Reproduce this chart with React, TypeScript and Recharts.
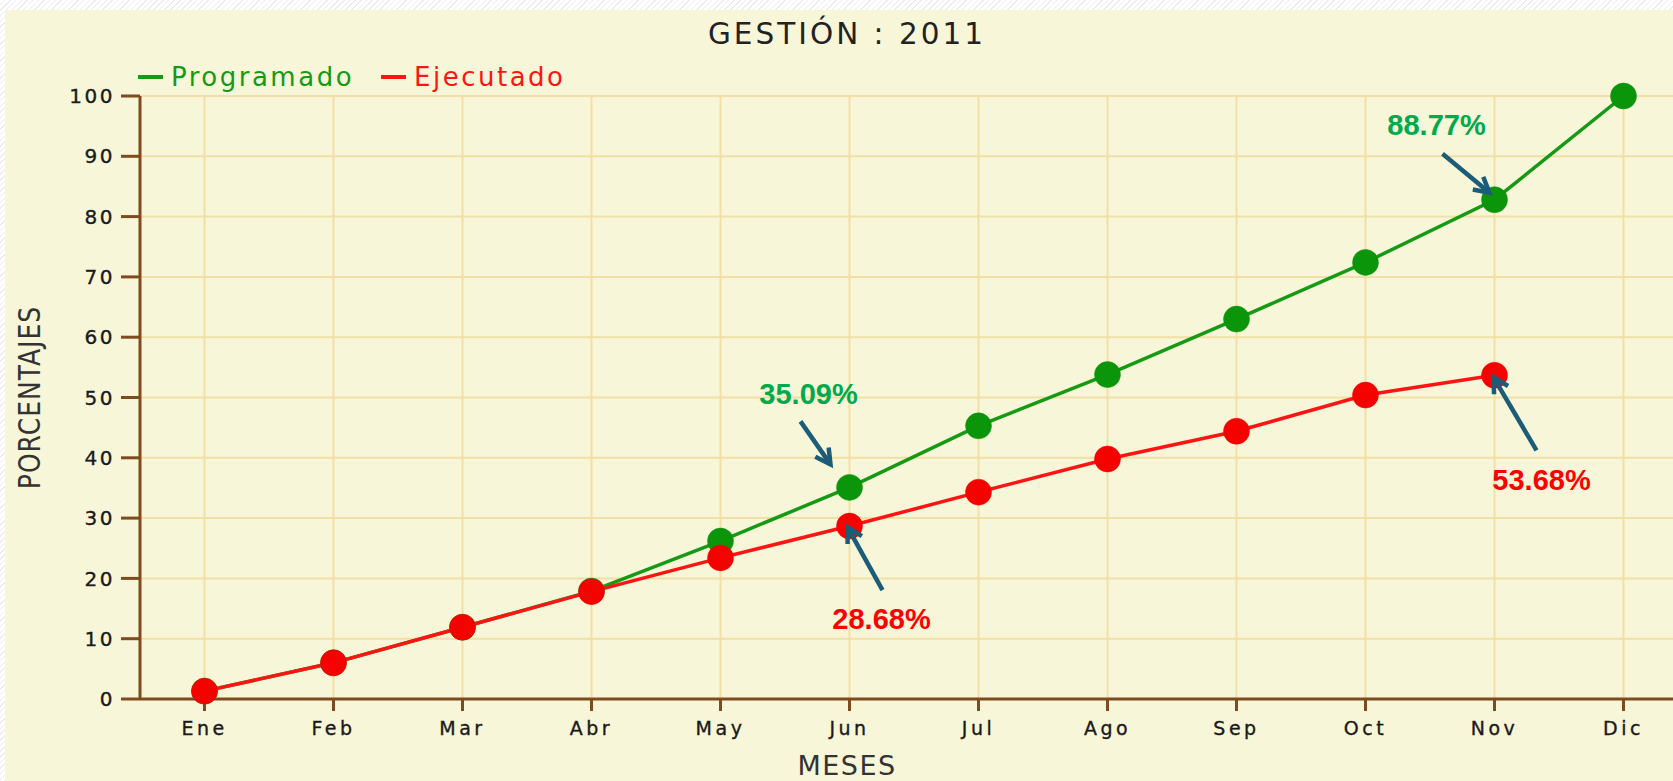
import { LineChart, Line, XAxis, YAxis, CartesianGrid, LabelList } from 'recharts';

const meses = ['Ene', 'Feb', 'Mar', 'Abr', 'May', 'Jun', 'Jul', 'Ago', 'Sep', 'Oct', 'Nov', 'Dic'];
const programado = [1.3, 6.0, 11.9, 17.9, 26.2, 35.09, 45.3, 53.8, 63.0, 72.4, 82.8, 100];
const ejecutado: (number | null)[] = [1.3, 6.0, 11.9, 17.8, 23.4, 28.68, 34.3, 39.8, 44.4, 50.4, 53.68, null];
const ticksY = [0, 10, 20, 30, 40, 50, 60, 70, 80, 90, 100];

const anotaciones = [
  { serie: 'programado', mes: 'Jun', texto: '35.09%' },
  { serie: 'programado', mes: 'Nov', texto: '88.77%' },
  { serie: 'ejecutado', mes: 'Jun', texto: '28.68%' },
  { serie: 'ejecutado', mes: 'Nov', texto: '53.68%' },
];

const data = meses.map((mes, i) => ({ mes, programado: programado[i], ejecutado: ejecutado[i] }));

const BG = '#F8F6D8';
const GRID = '#F2DFA6';
const AXIS = '#7E4A1E';
const VERDE = '#169A16';
const VERDE_DOT = '#0B950B';
const ROJO = '#FF1414';
const ROJO_DOT = '#F70000';
const FLECHA = '#1B5C78';
const PIXEL = '"DejaVu Sans", Verdana, sans-serif';

// label / arrow tail / arrow head, relative to the dot
const OFFSETS: Record<string, { tx: number; ty: number; ax: number; ay: number; hx: number; hy: number; color: string }> = {
  'programado-Jun': { tx: -41, ty: -93, ax: -49, ay: -66, hx: -19, hy: -23, color: '#00AA4C' },
  'programado-Nov': { tx: -58, ty: -75, ax: -52, ay: -46, hx: -5, hy: -7, color: '#00AA4C' },
  'ejecutado-Jun': { tx: 32, ty: 93, ax: 33, ay: 64, hx: -2, hy: 1, color: '#FF0000' },
  'ejecutado-Nov': { tx: 47, ty: 105, ax: 42, ay: 75, hx: -1, hy: 2, color: '#FF0000' },
};

function makeAnnot(serie: string) {
  return (props: any) => {
    const { x, y, index } = props;
    const mes = meses[index];
    const a = anotaciones.find((n) => n.serie === serie && n.mes === mes);
    if (!a || x == null || y == null) return null;
    const o = OFFSETS[`${serie}-${mes}`];
    const x1 = x + o.ax, y1 = y + o.ay, x2 = x + o.hx, y2 = y + o.hy;
    const ang = Math.atan2(y2 - y1, x2 - x1);
    const len = 17;
    const p1 = [x2 - len * Math.cos(ang - 0.5), y2 - len * Math.sin(ang - 0.5)];
    const p2 = [x2 - len * Math.cos(ang + 0.5), y2 - len * Math.sin(ang + 0.5)];
    return (
      <g key={`an-${serie}-${mes}`}>
        <line x1={x1} y1={y1} x2={x2} y2={y2} stroke={FLECHA} strokeWidth={4.5} />
        <polyline points={`${p1[0]},${p1[1]} ${x2},${y2} ${p2[0]},${p2[1]}`} fill="none" stroke={FLECHA} strokeWidth={4.5} />
        <text x={x + o.tx} y={y + o.ty} textAnchor="middle" dominantBaseline="central"
          style={{ fontFamily: '"Liberation Sans", Arial, sans-serif', fontWeight: 'bold', fontSize: 29, fill: o.color }}>
          {a.texto}
        </text>
      </g>
    );
  };
}

function Leyenda() {
  const items = [
    { name: 'Programado', color: VERDE },
    { name: 'Ejecutado', color: ROJO },
  ];
  return (
    <div style={{ display: 'flex', alignItems: 'center', height: 30, fontFamily: PIXEL, fontSize: 26, letterSpacing: 2.5 }}>
      {items.map((it) => (
        <div key={it.name} style={{ display: 'flex', alignItems: 'center', marginRight: 27 }}>
          <span style={{ display: 'inline-block', width: 25, height: 4, background: it.color, marginRight: 8 }} />
          <span style={{ color: it.color }}>{it.name}</span>
        </div>
      ))}
    </div>
  );
}

const tickStyle = { fill: '#1a1a1a', stroke: '#1a1a1a', strokeWidth: 0.35, fontFamily: PIXEL };

export default function App() {
  return (
    <div style={{
      position: 'absolute', left: 0, top: 0, width: 1673, height: 781, overflow: 'hidden',
      background: 'repeating-linear-gradient(135deg, #ffffff 0px, #ffffff 3px, #ececec 3px, #ececec 4px)',
    }}>
      <div style={{ position: 'absolute', left: 5, top: 10, width: 1668, height: 771, background: BG }}>
        <div style={{
          position: 'absolute', left: 0, width: 1684, top: 7, textAlign: 'center', lineHeight: 'normal',
          fontFamily: PIXEL, fontSize: 29.5, letterSpacing: 3, color: '#222',
        }}>
          GESTIÓN : 2011
        </div>
        <div style={{ position: 'absolute', left: 133, top: 52 }}>
          <Leyenda />
        </div>
        <div style={{
          position: 'absolute', left: -5, top: 332, width: 60, height: 110,
          display: 'flex', alignItems: 'center', justifyContent: 'center',
        }}>
          <div style={{
            transform: 'rotate(-90deg) scaleY(1.2)', whiteSpace: 'nowrap',
            fontFamily: PIXEL, fontSize: 25, letterSpacing: 1, color: '#333',
          }}>
            PORCENTAJES
          </div>
        </div>
        <div style={{
          position: 'absolute', left: 0, width: 1684, top: 740, textAlign: 'center', lineHeight: 'normal',
          fontFamily: PIXEL, fontSize: 27, letterSpacing: 1.5, color: '#333',
        }}>
          MESES
        </div>
        <LineChart width={1700} height={771} data={data} margin={{ top: 86, right: 17, left: 0, bottom: 0 }}>
          <CartesianGrid stroke={GRID} strokeWidth={2} />
          <XAxis
            dataKey="mes"
            padding={{ left: 64.5, right: 64.5 }}
            height={82}
            axisLine={{ stroke: AXIS, strokeWidth: 3 }}
            tickLine={{ stroke: AXIS, strokeWidth: 3 }}
            tickSize={12}
            tickMargin={11}
            tick={{ ...tickStyle, fontSize: 19, letterSpacing: 3.5 }}
          />
          <YAxis
            domain={[0, 100]}
            ticks={ticksY}
            width={135}
            axisLine={{ stroke: AXIS, strokeWidth: 3 }}
            tickLine={{ stroke: AXIS, strokeWidth: 3 }}
            tickSize={19}
            tickMargin={6}
            tick={{ ...tickStyle, fontSize: 20, letterSpacing: 2.5 }}
          />
          <Line
            dataKey="programado"
            name="Programado"
            stroke={VERDE}
            strokeWidth={3.5}
            dot={{ r: 13, fill: VERDE_DOT, stroke: VERDE_DOT, strokeWidth: 0.5 }}
            isAnimationActive={false}
          >
            <LabelList dataKey="programado" content={makeAnnot('programado')} />
          </Line>
          <Line
            dataKey="ejecutado"
            name="Ejecutado"
            stroke={ROJO}
            strokeWidth={3.5}
            dot={{ r: 13, fill: ROJO_DOT, stroke: ROJO_DOT, strokeWidth: 0.5 }}
            isAnimationActive={false}
          >
            <LabelList dataKey="ejecutado" content={makeAnnot('ejecutado')} />
          </Line>
        </LineChart>
      </div>
    </div>
  );
}
